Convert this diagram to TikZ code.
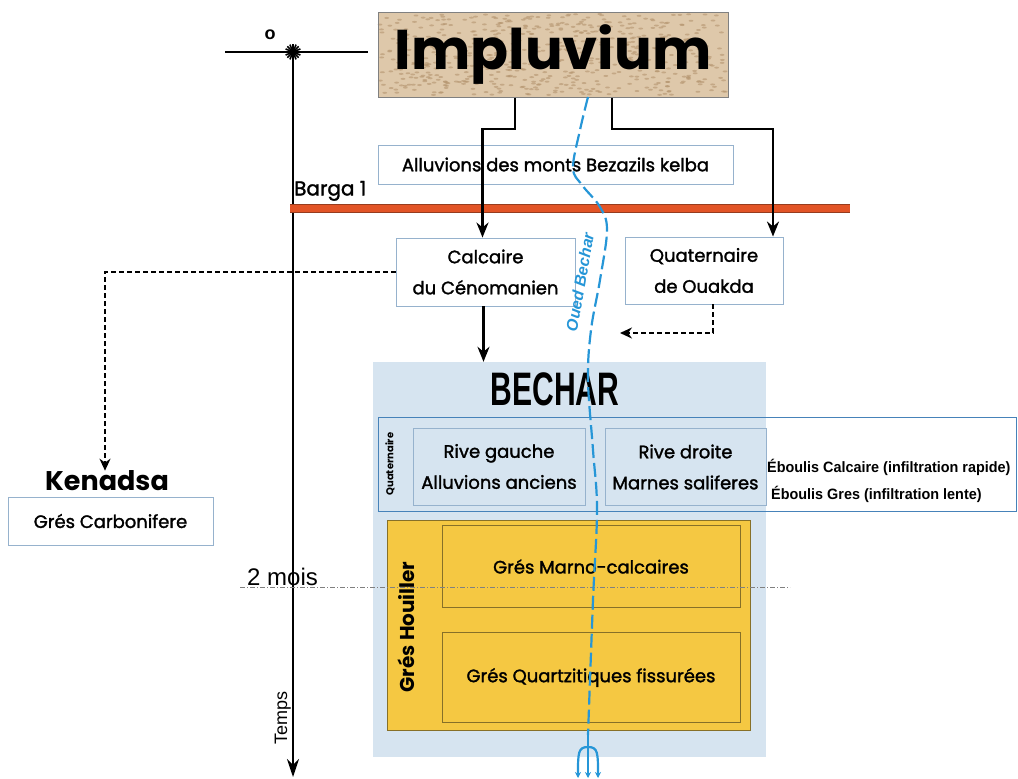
\documentclass[tikz,border=0pt]{standalone}
\usepackage{fontspec}
\setmainfont{Poppins}
\newfontfamily\boxfont{Poppins}[FakeBold=1.6]
\newfontfamily\arialfont{Liberation Sans}
\usetikzlibrary{arrows.meta,calc}

\definecolor{boxline}{RGB}{150,178,205}
\definecolor{rowline}{RGB}{70,130,185}
\definecolor{becharbg}{RGB}{214,228,240}
\definecolor{houiller}{RGB}{245,200,66}
\definecolor{houline}{RGB}{135,112,40}
\definecolor{barga}{RGB}{226,84,38}
\definecolor{bargadark}{RGB}{150,60,30}
\definecolor{oued}{RGB}{38,150,215}
\definecolor{impl}{RGB}{222,200,170}
\definecolor{impldark}{RGB}{180,148,110}

\begin{document}
\begin{tikzpicture}[x=1pt,y=-1pt]
\tikzstyle{every node}+=[inner sep=0pt]
\tikzstyle{box}=[draw=boxline, line width=0.9pt, fill=white, align=center, font=\boxfont\fontsize{18}{31}\selectfont]
\tikzstyle{flow}=[line width=2.4pt, -{Stealth[length=15pt,width=12pt]}]
\tikzstyle{dflow}=[line width=2.2pt, dash pattern=on 5pt off 3pt, -{Stealth[length=12pt,width=11pt]}]
\tikzstyle{layer}=[draw=houline, line width=0.8pt, minimum width=298pt, fill=houiller, font=\boxfont\fontsize{18}{20}\selectfont]
\tikzstyle{ouedline}=[draw=oued, line width=2.2pt]
\useasboundingbox (0,0) rectangle (1018,779);

% impluvium
\fill[impl] (378,12) rectangle (728,97);
\pgfmathsetseed{7}
\foreach \i in {1,...,600}{
  \pgfmathsetmacro\px{380+346*rnd}
  \pgfmathsetmacro\py{14+81*rnd}
  \fill[impldark, opacity=0.6] (\px,\py) ellipse (2.4 and 1);
}
\node[draw=gray, minimum width=350pt, minimum height=85pt, font=\fontsize{56}{60}\selectfont\bfseries] (impl) at (553,55) {Impluvium};

% axe du temps
\node[minimum size=14pt] (t0) at (293,52) {};
\coordinate (hl) at (225,52);
\coordinate (hr) at (368,52);
\coordinate (tend) at (293,777);
\draw[line width=1.5pt] (hl) -- (hr);
\draw[line width=1.5pt, -{Stealth[length=18pt,width=12pt]}] (t0.center) -- (tend);
\foreach \a in {0,22.5,...,157.5}
  \draw[line width=1.6pt] ($(t0.center)+(\a:8)$) -- ($(t0.center)+(\a+180:8)$);
\node[font=\arialfont\bfseries\fontsize{18}{18}\selectfont] (deg) at (270,35) {o};
\node[rotate=90, anchor=south, font=\arialfont\fontsize{18}{18}\selectfont] (temps) at (291,718) {Temps};

\node[box, minimum width=355pt, minimum height=39pt] (alluv) at (555.5,164.5) {Alluvions des monts Bezazils kelba};

\node[font=\boxfont\fontsize{20}{20}\selectfont, anchor=south west] (barga) at (294,201) {Barga 1};
\coordinate (bl) at (290,208);
\coordinate (br) at (850,208);
\draw[line width=9pt, bargadark] (bl) -- (br);
\draw[line width=7pt, barga] (bl) -- (br);

\node[box, minimum width=179pt, minimum height=68pt] (calc) at (485.5,272) {Calcaire\\du Cénomanien};
\node[box, minimum width=158pt, minimum height=67pt] (quat) at (704,270.5) {Quaternaire\\de Ouakda};

% bechar
\node[fill=becharbg, minimum width=393pt, minimum height=395pt] (bechar) at (569.5,559.5) {};
\node[font=\arialfont\bfseries\fontsize{47}{47}\selectfont] (becharlbl) at (555,389) {\scalebox{0.64}[1]{BECHAR}};
\node[draw=rowline, line width=0.8pt, minimum width=638pt, minimum height=94pt] (quatrow) at (697,464) {};
\node[rotate=90, font=\bfseries\fontsize{10}{10}\selectfont] (quatlbl) at (390,464) {Quaternaire};
\node[box, fill=becharbg, minimum width=172pt, minimum height=77pt] (rg) at (499,466.5) {Rive gauche\\Alluvions anciens};
\node[box, fill=becharbg, minimum width=161pt, minimum height=77pt] (rd) at (685.5,467) {Rive droite\\Marnes saliferes};
\node[anchor=west, font=\arialfont\bfseries\fontsize{15}{15}\selectfont] (ebc) at (767,467) {\scalebox{0.96}[1]{Éboulis Calcaire (infiltration rapide)}};
\node[anchor=west, font=\arialfont\bfseries\fontsize{15}{15}\selectfont] (ebg) at (771,494) {\scalebox{0.96}[1]{Éboulis Gres (infiltration lente)}};

\node[fill=houiller, draw=houline, line width=0.8pt, minimum width=363pt, minimum height=210pt] (houiller) at (568.5,625) {};
\node[rotate=90, font=\bfseries\fontsize{20}{20}\selectfont] (houlbl) at (406,627) {Grés Houiller};
\node[layer, minimum height=82pt] (marno) at (591,566.5) {Grés Marno-calcaires};
\node[layer, minimum height=90pt] (quartz) at (591,677.5) {Grés Quartzitiques fissurées};

% kenadsa
\node[font=\bfseries\fontsize{27}{27}\selectfont] (ken) at (107,481) {Kenadsa};
\node[box, minimum width=205pt, minimum height=48pt] (carb) at (110.5,521) {Grés Carbonifere};

% 2 mois
\coordinate (moisl) at (240,587);
\coordinate (moisr) at (790,587);
\draw[gray, line width=0.6pt, dash pattern=on 5pt off 2pt on 1pt off 2pt] (moisl) -- (moisr);
\node[anchor=south west, font=\arialfont\fontsize{24}{24}\selectfont] (mois) at (247,586) {2 mois};

% fleches
\draw[flow] ([xshift=-38pt]impl.south) -- ++(0,31) -| ([xshift=-3pt]calc.north);
\draw[flow] ([xshift=59pt]impl.south) -- ++(0,31) -| ([xshift=69pt]quat.north);
\draw[flow] ([xshift=-2pt]calc.south) -- ([xshift=-2pt]calc.south |- bechar.north);
\coordinate (qtip) at (620,333);
\draw[dflow] ([xshift=9pt]quat.south) |- (qtip);
\draw[dflow] (calc.west) -| ([xshift=-2pt]ken.north);

% oued bechar
\draw[ouedline, dash pattern=on 14pt off 5pt] plot[smooth, tension=0.6] coordinates {(588,97) (580,130) (573,168) (582,185) (600,207) (607,230) (600,280) (591,330) (588,380) (593,450) (597,510) (593,600) (588,735)};
\coordinate (stem) at (588,733);
\draw[ouedline, -{Stealth[length=6pt,width=6pt]}] (stem) -- (588,778);
\draw[ouedline, -{Stealth[length=6pt,width=6pt]}] (588,747) .. controls (578,747) and (578,753) .. (578,778);
\draw[ouedline, -{Stealth[length=6pt,width=6pt]}] (588,747) .. controls (598,747) and (598,753) .. (598,778);
\node[rotate=80, text=oued, font=\arialfont\bfseries\itshape\fontsize{16}{16}\selectfont] (ouedlbl) at (580,282) {Oued Bechar};
\end{tikzpicture}
\end{document}
